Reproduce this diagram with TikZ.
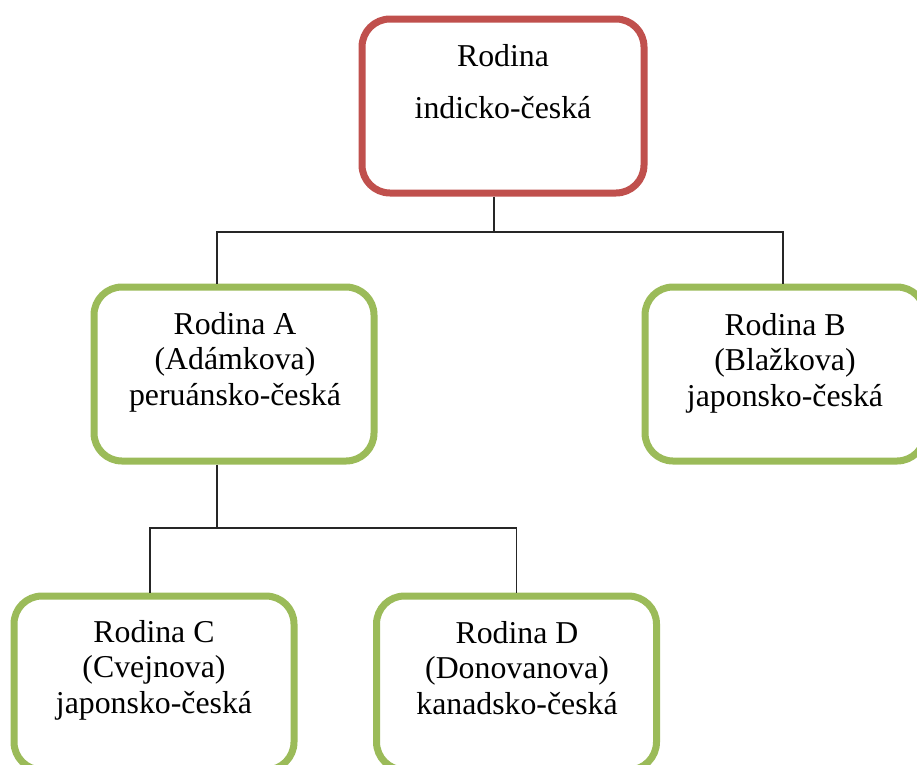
\documentclass[tikz,border=0pt]{standalone}
\usepackage{fontspec}
\setmainfont{Liberation Serif}
\definecolor{famred}{HTML}{C0504D}
\definecolor{famgreen}{HTML}{9BBB59}
\begin{document}
\begin{tikzpicture}[x=1pt,y=-1pt,
  familybox/.style={draw, rectangle, rounded corners=28pt, line width=7pt,
    minimum width=280pt, minimum height=174pt, inner sep=0pt, fill=white},
  rootbox/.style={familybox, draw=famred, minimum width=282pt},
  childbox/.style={familybox, draw=famgreen},
  label/.style={anchor=base, align=center, inner sep=0pt,
    font=\fontsize{31.8}{35.5}\selectfont},
  conn/.style={draw=black!85, line width=1.1pt}]
  \useasboundingbox (0,0) rectangle (917,764);
  \clip (0,0) rectangle (917,764);

  % family boxes
  \node[rootbox]  (root) at (503,106)   {};
  \node[childbox] (fa)   at (234,374)   {};
  \node[childbox] (fb)   at (785,374)   {};
  \node[childbox] (fc)   at (154,683)   {};
  \node[childbox] (fd)   at (516.5,683) {};

  % box texts (placed by the baseline of their last line)
  \node[label, font=\fontsize{31.8}{52}\selectfont] (roott) at (503,118)
    {Rodina\\indicko-česká};
  \node[label] (fat) at (235,405) {Rodina A\\(Adámkova)\\peruánsko-česká};
  \node[label] (fbt) at (785,406) {Rodina B\\(Blažkova)\\japonsko-česká};
  \node[label] (fct) at (154,713) {Rodina C\\(Cvejnova)\\japonsko-česká};
  \node[label] (fdt) at (517,714) {Rodina D\\(Donovanova)\\kanadsko-česká};

  % connectors
  \coordinate (j1) at (494,232);
  \coordinate (j2) at (217,528);
  \draw[conn] (root.south -| j1) -- (j1);
  \draw[conn] (j1) -| ([xshift=-17pt]fa.north);
  \draw[conn] (j1) -| ([xshift=-2pt]fb.north);
  \draw[conn] (fa.south -| j2) -- (j2);
  \draw[conn] (j2) -| ([xshift=-4pt]fc.north);
  \draw[conn] (j2) -| (fd.north);
\end{tikzpicture}
\end{document}
